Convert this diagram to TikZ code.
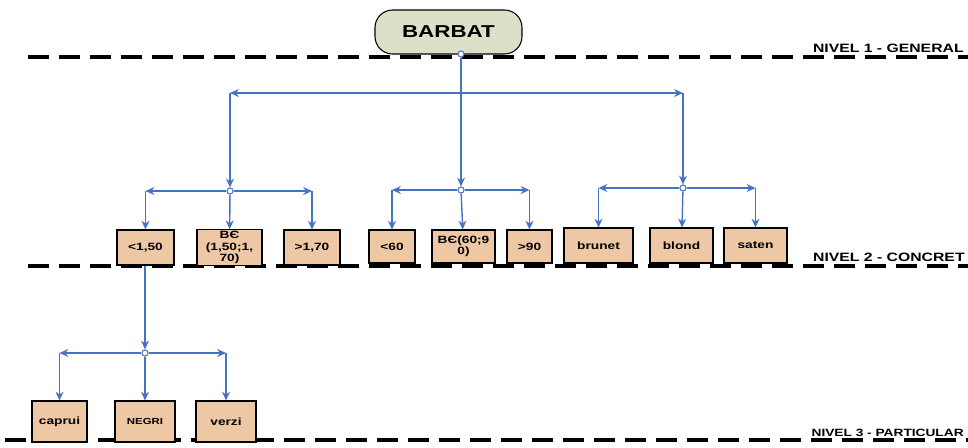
\documentclass[tikz,border=0pt]{standalone}
\usepackage{fontspec}
\setmainfont{Liberation Sans}[FakeStretch=1.3]
\usepackage{tikz}
\usetikzlibrary{arrows.meta}
\definecolor{linkblue}{RGB}{68, 114, 196}
\definecolor{leaffill}{RGB}{238, 199, 165}
\definecolor{rootfill}{RGB}{221, 224, 200}

\begin{document}
\begin{tikzpicture}[x=0.02cm, y=-0.02cm,
        leaf/.style={draw=black, line width=0.6pt, fill=leaffill, minimum height=0.7cm, inner sep=1pt, align=center, font=\bfseries\fontsize{6}{6.4}\selectfont},
        hub/.style={circle, draw=linkblue, fill=white, line width=0.6pt, minimum size=3.5pt, inner sep=0pt},
        link/.style={draw=linkblue, line width=0.8pt, -{Stealth[length=5pt, width=4.5pt]}},
        levelline/.style={line width=1.8pt, dash pattern=on 0.42cm off 0.2cm},
        levellabel/.style={anchor=south east, inner sep=0pt, font=\bfseries\fontsize{6.9}{7}\selectfont}]
        \useasboundingbox (0,0) rectangle (968,447);

        \draw[levelline] (28,57) -- (968,57);
        \draw[levelline] (28,266) -- (968,266);
        \draw[levelline] (5,440) -- (968,440);
        \node[levellabel] (lvl1) at (964,53) {NIVEL 1 - GENERAL};
        \node[levellabel] (lvl2) at (965,262) {NIVEL 2 - CONCRET};
        \node[levellabel, font=\bfseries\fontsize{6}{7}\selectfont] (lvl3) at (964,437) {NIVEL 3 - PARTICULAR};

        \node[draw=black, line width=0.6pt, fill=rootfill, rounded corners=10pt, minimum width=2.94cm, minimum height=0.88cm, font=\bfseries\fontsize{9.8}{10}\selectfont] (root) at (448.5,32) {BARBAT};
        \node[hub] (rootpin) at (461,54) {};

        \node[leaf, minimum width=1.14cm] (lowh) at (145.5,247.5) {<1,50};
        \node[leaf, minimum width=1.3cm] (midh) at (229.5,247.5) {BЄ\\(1,50;1,\\70)};
        \node[leaf, minimum width=1.12cm] (highh) at (312,247.5) {>1,70};

        \node[leaf, minimum width=0.92cm, minimum height=0.66cm] (loww) at (392,246.5) {<60};
        \node[leaf, minimum width=1.26cm, minimum height=0.66cm] (midw) at (463.5,246.5) {BЄ(60;9\\0)};
        \node[leaf, minimum width=0.9cm, minimum height=0.66cm] (highw) at (529.5,246.5) {>90};

        \node[leaf, minimum width=1.38cm] (brunet) at (598.5,245.5) {brunet};
        \node[leaf, minimum width=1.26cm] (blond) at (681.5,245.5) {blond};
        \node[leaf, minimum width=1.26cm] (saten) at (755.5,245.5) {saten};

        \node[leaf, minimum width=1.1cm, minimum height=0.82cm] (caprui) at (59.5,421.5) {caprui};
        \node[leaf, minimum width=1.2cm, minimum height=0.82cm, font=\bfseries\fontsize{5}{5.5}\selectfont] (negri) at (145,421.5) {NEGRI};
        \node[leaf, minimum width=1.2cm, minimum height=0.82cm] (verzi) at (226,421.5) {verzi};

        \node[hub] (hheight) at (230,191) {};
        \node[hub] (hweight) at (461,190) {};
        \node[hub] (hhair) at (683,188) {};
        \node[hub] (heyes) at (145,353) {};

        \coordinate (bus) at (461,93);
        \draw[link] (rootpin) -- (hweight);
        \draw[link] (bus) -- (bus -| hheight);
        \draw[link] (bus -| hheight) -- (hheight);
        \draw[link] (bus) -- (bus -| hhair);
        \draw[link] (bus -| hhair) -- (hhair);

        \draw[link] (hheight) -- (hheight -| lowh);
        \draw[link] (hheight -| lowh) -- (lowh);
        \draw[link] (hheight) -- (midh);
        \draw[link] (hheight) -- (hheight -| highh);
        \draw[link] (hheight -| highh) -- (highh);

        \draw[link] (hweight) -- (hweight -| loww);
        \draw[link] (hweight -| loww) -- (loww);
        \draw[link] (hweight) -- (midw);
        \draw[link] (hweight) -- (hweight -| highw);
        \draw[link] (hweight -| highw) -- (highw);

        \draw[link] (hhair) -- (hhair -| brunet);
        \draw[link] (hhair -| brunet) -- (brunet);
        \draw[link] (hhair) -- (blond);
        \draw[link] (hhair) -- (hhair -| saten);
        \draw[link] (hhair -| saten) -- (saten);

        \draw[link] (lowh.south -| heyes) -- (heyes);
        \draw[link] (heyes) -- (heyes -| caprui);
        \draw[link] (heyes -| caprui) -- (caprui);
        \draw[link] (heyes) -- (negri);
        \draw[link] (heyes) -- (heyes -| verzi);
        \draw[link] (heyes -| verzi) -- (verzi);
    \end{tikzpicture}
\end{document}
